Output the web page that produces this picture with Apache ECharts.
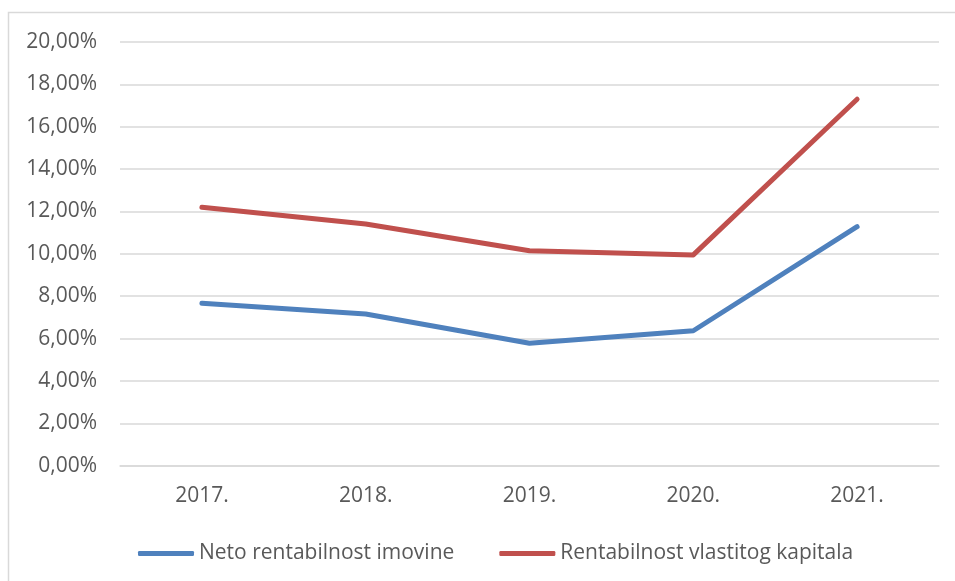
<!DOCTYPE html>
<html>
<head>
<meta charset="utf-8">
<script src="https://cdn.jsdelivr.net/npm/echarts@6/dist/echarts.min.js"></script>
<style>
html,body{margin:0;padding:0;background:#fff;}
#chart{width:955px;height:581px;}
</style>
</head>
<body>
<div id="chart"></div>
<script>
const categories = ['2017.', '2018.', '2019.', '2020.', '2021.'];
const seriesNames = ['Neto rentabilnost imovine', 'Rentabilnost vlastitog kapitala'];
const netoRentabilnostImovine = [7.67, 7.16, 5.78, 6.37, 11.28];
const rentabilnostKapitala = [12.20, 11.41, 10.15, 9.95, 17.30];
const yMin = 0, yMax = 20, yStep = 2;

const chart = echarts.init(document.getElementById('chart'), null, {renderer: 'canvas'});
const font = '"Open Sans", "Liberation Sans", sans-serif';
chart.setOption({
  animation: false,
  backgroundColor: '#ffffff',
  graphic: [{
    type: 'rect',
    shape: {x: 8.5, y: 12.5, width: 2000, height: 2000},
    style: {fill: 'none', stroke: '#d9d9d9', lineWidth: 1.5},
    silent: true
  }],
  grid: {left: 120, right: 16, top: 42, bottom: 115.3, containLabel: false},
  xAxis: {
    type: 'category',
    data: categories,
    boundaryGap: true,
    axisLine: {show: true, lineStyle: {color: '#d9d9d9', width: 1.5}},
    axisTick: {show: false},
    axisLabel: {color: '#595959', fontSize: 21, fontFamily: font, margin: 20},
    splitLine: {show: false}
  },
  yAxis: {
    type: 'value',
    min: yMin, max: yMax, interval: yStep,
    axisLine: {show: false},
    axisTick: {show: false},
    axisLabel: {
      color: '#595959', fontSize: 21, fontFamily: font, margin: 23,
      formatter: v => v.toFixed(2).replace('.', ',') + '%'
    },
    splitLine: {show: true, lineStyle: {color: '#d9d9d9', width: 1.5}}
  },
  legend: {
    left: 133, top: 538,
    icon: 'roundRect',
    itemWidth: 56, itemHeight: 5, itemGap: 45,
    textStyle: {color: '#595959', fontSize: 21, fontFamily: font},
    data: seriesNames
  },
  series: [
    {
      name: seriesNames[0], type: 'line', data: netoRentabilnostImovine,
      symbol: 'none', smooth: false,
      lineStyle: {color: '#4f81bd', width: 5, cap: 'round', join: 'round'},
      itemStyle: {color: '#4f81bd'}
    },
    {
      name: seriesNames[1], type: 'line', data: rentabilnostKapitala,
      symbol: 'none', smooth: false,
      lineStyle: {color: '#c0504d', width: 5, cap: 'round', join: 'round'},
      itemStyle: {color: '#c0504d'}
    }
  ]
});
</script>
</body>
</html>
